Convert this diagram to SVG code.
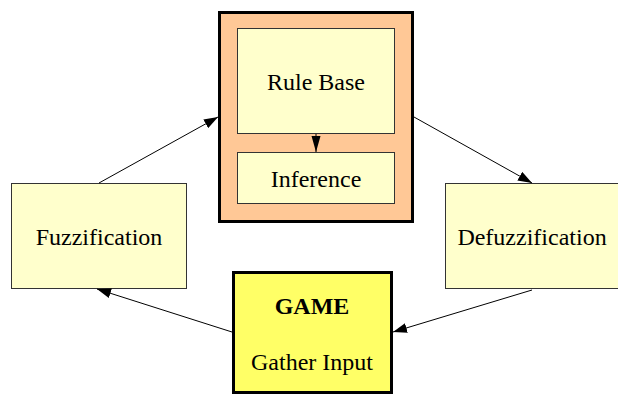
<svg xmlns="http://www.w3.org/2000/svg" width="618" height="396" viewBox="0 0 618 396">
  <style>
    .box { fill: #FFFFCC; stroke: #333; stroke-width: 1; }
    .frame { fill: #FFC896; stroke: #000; stroke-width: 3; }
    .game { fill: #FFFF66; stroke: #000; stroke-width: 3; }
    .lbl { font-family: 'Liberation Serif', 'Times New Roman', serif; font-size: 24px; fill: #000; text-anchor: middle; }
    .bold { font-weight: bold; }
    .edge { stroke: #000; stroke-width: 1; fill: none; marker-end: url(#arrow); }
    .edge-short { stroke: #000; stroke-width: 1; fill: none; marker-end: url(#arrow-narrow); }
  </style>
  <defs>
    <marker id="arrow" markerWidth="14" markerHeight="10" refX="14" refY="5" orient="auto" markerUnits="userSpaceOnUse">
      <path d="M0,0 L14,5 L0,10 z" fill="#000"/>
    </marker>
    <marker id="arrow-narrow" markerWidth="16" markerHeight="10" refX="16" refY="5" orient="auto" markerUnits="userSpaceOnUse">
      <path d="M0,0.5 L16,5 L0,9.5 z" fill="#000"/>
    </marker>
  </defs>

  <!-- inference engine frame holding rule base and inference -->
  <g id="inference-engine">
    <rect class="frame" x="219.5" y="12.5" width="193" height="209"/>
  </g>
  <g id="rule-base">
    <rect class="box" x="237.5" y="28.5" width="157" height="105"/>
    <text class="lbl" x="316" y="90">Rule Base</text>
  </g>
  <g id="inference">
    <rect class="box" x="237.5" y="152.5" width="157" height="51"/>
    <text class="lbl" x="316" y="187">Inference</text>
  </g>
  <g id="fuzzification">
    <rect class="box" x="11.5" y="183.5" width="175" height="105"/>
    <text class="lbl" x="99" y="245">Fuzzification</text>
  </g>
  <g id="defuzzification">
    <rect class="box" x="445.5" y="183.5" width="175" height="105"/>
    <text class="lbl" x="532" y="245">Defuzzification</text>
  </g>
  <g id="game">
    <rect class="game" x="233.5" y="272.5" width="158" height="120"/>
    <text class="lbl bold" x="312" y="314">GAME</text>
    <text class="lbl" x="312" y="370">Gather Input</text>
  </g>

  <g id="connectors">
    <line class="edge-short" x1="316" y1="134" x2="316" y2="152"/>
    <line class="edge" x1="99" y1="183" x2="218" y2="117"/>
    <line class="edge" x1="414" y1="117" x2="532" y2="183"/>
    <line class="edge" x1="232" y1="332" x2="97" y2="289"/>
    <line class="edge" x1="532" y1="290" x2="393" y2="332"/>
  </g>
</svg>
